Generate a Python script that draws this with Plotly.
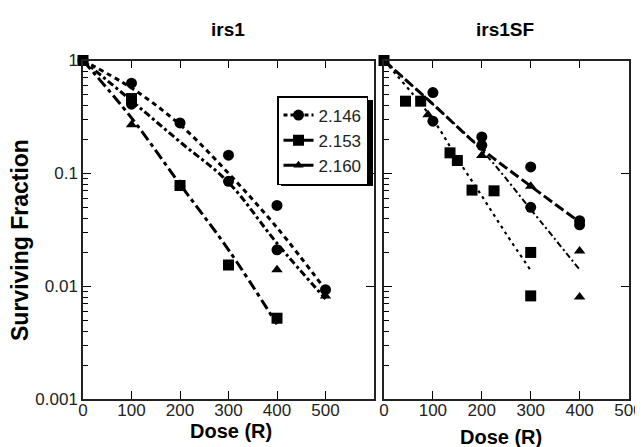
import plotly.graph_objects as go

# ---------------- data: irs1 (left panel) ----------------
L_146_dose = [0, 100, 100, 200, 300, 300, 400, 400, 500]
L_146_sf = [1, 0.63, 0.41, 0.28, 0.145, 0.085, 0.052, 0.021, 0.0093]
L_153_dose = [0, 100, 200, 300, 400]
L_153_sf = [1, 0.46, 0.078, 0.0154, 0.0052]
L_160_dose = [100, 200, 400, 500]
L_160_sf = [0.27, 0.08, 0.014, 0.0082]

L_fit_dose = [0, 100, 200, 300, 400, 500]
L_fit_146 = [1, 0.57, 0.27, 0.1, 0.033, 0.0093]
L_fit_160 = [1, 0.44, 0.19, 0.083, 0.024, 0.0077]
L_fit_153_dose = [0, 100, 200, 300, 400]
L_fit_153 = [1, 0.31, 0.08, 0.021, 0.0046]

# ---------------- data: irs1SF (right panel) ----------------
R_146_dose = [100, 100, 200, 200, 300, 300, 400, 400]
R_146_sf = [0.52, 0.29, 0.21, 0.177, 0.114, 0.05, 0.038, 0.035]
R_153_dose = [0, 44, 75, 135, 150, 180, 225, 300, 300]
R_153_sf = [1, 0.436, 0.436, 0.152, 0.13, 0.071, 0.07, 0.0199, 0.0082]
R_160_dose = [90, 200, 300, 400, 400]
R_160_sf = [0.33, 0.144, 0.077, 0.0205, 0.008]

R_fit_dose = [0, 100, 200, 300, 400]
R_fit_146 = [1, 0.41, 0.165, 0.077, 0.037]
R_fit_160 = [1, 0.41, 0.16, 0.048, 0.014]
R_fit_153_dose = [0, 100, 150, 200, 250, 300]
R_fit_153 = [1, 0.30, 0.135, 0.063, 0.029, 0.0138]

legend_names = ["2.146", "2.153", "2.160"]
x_ticks = [0, 100, 200, 300, 400, 500]
y_ticks = [1, 0.1, 0.01, 0.001]
y_ticktext = ["1", "0.1", "0.01", "0.001"]

K = "black"
FONT = "Liberation Sans, Arial, sans-serif"

# page body has an 8px margin: lay out in reference pixels shifted by it
OFF = 8
W, H = 643 - OFF, 447 - OFF


def px(p):
    return (p - OFF) / W


def py(p):
    return (H - (p - OFF)) / H


fig = go.Figure()


def marks(x, y, sym, size, xa, ya):
    fig.add_trace(go.Scatter(x=x, y=y, mode="markers", xaxis=xa, yaxis=ya,
                             marker=dict(symbol=sym, size=size, color=K),
                             showlegend=False, cliponaxis=False))


def fit(x, y, dash, width, xa, ya):
    fig.add_trace(go.Scatter(x=x, y=y, mode="lines", xaxis=xa, yaxis=ya,
                             line=dict(color=K, width=width, dash=dash, shape="spline"),
                             showlegend=False))


# left panel
fit(L_fit_dose, L_fit_146, "5px,4px", 3, "x", "y")
fit(L_fit_dose, L_fit_160, "7px,3px,3px,3px", 3, "x", "y")
fit(L_fit_153_dose, L_fit_153, "11px,4px,4px,4px", 3, "x", "y")
marks(L_146_dose, L_146_sf, "circle", 11, "x", "y")
marks(L_153_dose, L_153_sf, "square", 11, "x", "y")
marks(L_160_dose, L_160_sf, "triangle-up", 10, "x", "y")

# right panel
fit(R_fit_dose, R_fit_146, "10px,4px", 3, "x2", "y2")
fit(R_fit_dose, R_fit_160, "6px,3px,2px,3px", 2, "x2", "y2")
fit(R_fit_153_dose, R_fit_153, "3px,4px", 2.2, "x2", "y2")
marks(R_146_dose, R_146_sf, "circle", 11, "x2", "y2")
marks(R_153_dose, R_153_sf, "square", 11, "x2", "y2")
marks(R_160_dose, R_160_sf, "triangle-up", 10, "x2", "y2")

# legend entries
for name, sym, dash, sz in zip(legend_names, ["circle", "square", "triangle-up"],
                               ["4px,3px", "solid", "solid"], [11, 11, 9]):
    fig.add_trace(go.Scatter(x=[None], y=[None], mode="lines+markers", name=name,
                             xaxis="x", yaxis="y",
                             line=dict(color=K, width=3, dash=dash),
                             marker=dict(symbol=sym, size=sz, color=K)))

# dummy traces to activate the right-side tick axes
fig.add_trace(go.Scatter(x=[None], y=[None], xaxis="x", yaxis="y3", showlegend=False))
fig.add_trace(go.Scatter(x=[None], y=[None], xaxis="x2", yaxis="y4", showlegend=False))

minor_vals = [m * 10 ** e for e in (-3, -2, -1) for m in range(2, 10)]

ydom = [py(399), py(60.5)]
xdomL = [px(83), px(374)]
xdomR = [px(384), px(629)]

tickfont = dict(family=FONT, size=17, color="#222")
common_x = dict(ticks="inside", ticklen=8, tickwidth=1.2, tickcolor=K,
                showline=True, linecolor="#222", linewidth=1.5, mirror="ticks",
                showgrid=False, zeroline=False, tickvals=x_ticks,
                tickfont=tickfont, automargin=False, ticklabelstandoff=-5,
                ticklabeloverflow="allow")
common_y = dict(type="log", range=[-3, 0], ticks="inside", ticklen=8, tickwidth=1.2,
                tickcolor=K, showline=True, linecolor="#222", linewidth=1.5,
                mirror=True, showgrid=False, zeroline=False, tickvals=y_ticks,
                ticktext=y_ticktext, tickfont=tickfont, automargin=False,
                ticklabeloverflow="allow",
                minor=dict(ticks="inside", ticklen=5, tickwidth=1, tickcolor=K,
                           tickvals=minor_vals, showgrid=False))
right_ticks = dict(type="log", range=[-3, 0], side="right", ticks="inside", ticklen=8,
                   tickwidth=1.2, tickcolor=K, tickvals=y_ticks, showticklabels=False,
                   showgrid=False, zeroline=False, showline=False)

fig.update_layout(
    width=W, height=H,
    margin=dict(l=0, r=0, t=0, b=0),
    paper_bgcolor="white", plot_bgcolor="white",
    font=dict(family=FONT, color=K),
    xaxis=dict(domain=xdomL, range=[0, 600], anchor="y", **common_x),
    xaxis2=dict(domain=xdomR, range=[0, 501], anchor="y2", **common_x),
    yaxis=dict(domain=ydom, anchor="x", **common_y),
    yaxis2=dict(domain=ydom, anchor="x2", showticklabels=False, **common_y),
    yaxis3=dict(overlaying="y", anchor="x", **right_ticks),
    yaxis4=dict(overlaying="y2", anchor="x2", **right_ticks),
    legend=dict(x=px(277), y=py(96), xanchor="left", yanchor="top",
                bgcolor="white", bordercolor=K, borderwidth=1.5,
                font=dict(family=FONT, size=17, color="#222"),
                itemwidth=30, tracegroupgap=0),
    showlegend=True,
)

# legend shadow
fig.add_shape(type="rect", xref="paper", yref="paper",
              x0=px(281), x1=px(373), y0=py(186), y1=py(100),
              fillcolor=K, line=dict(width=0), layer="below")


def label(text, x, y, size, angle=0):
    fig.add_annotation(text=text, x=px(x), y=py(y), xref="paper", yref="paper",
                       xanchor="center", yanchor="middle", textangle=angle,
                       showarrow=False,
                       font=dict(family=FONT, size=size, color=K, weight="bold"))


label("irs1", 228, 30, 19)
label("irs1SF", 505, 30, 19)
label("Dose (R)", 231, 431, 20)
label("Dose (R)", 501, 437, 20)
label("Surviving Fraction", 20, 240, 23, -90)

fig.write_html("out.html")
